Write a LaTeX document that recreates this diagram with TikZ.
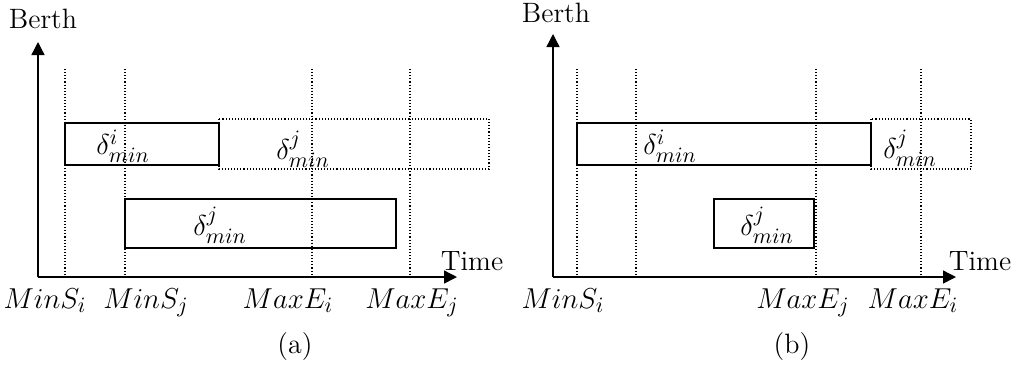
\documentclass[tikz,border=0pt]{standalone}
\usetikzlibrary{arrows.meta}
\begin{document}
\begin{tikzpicture}[x=0.5pt,y=-0.5pt,
  lbl/.style={inner sep=0pt,font=\fontsize{15}{18}\selectfont},
  txt/.style={inner sep=0pt,font=\fontsize{14}{17}\selectfont},
  axis/.style={line width=0.7pt,-{Triangle[length=6.5pt,width=6.5pt]}},
  guide/.style={line width=0.55pt,densely dotted},
  solidbox/.style={draw,line width=1pt,inner sep=0pt},
  ghostbox/.style={draw,line width=0.55pt,densely dotted,inner sep=0pt}]
\useasboundingbox (0,0) rectangle (1011,366);
% ---------- panel (a) ----------
\coordinate (aO) at (38,277);
\coordinate (aY) at (38,42);
\coordinate (aX) at (457,277);
\node[txt] (aberth) at (43,19) {Berth};
\node[txt] (atime) at (472,261) {Time};
\foreach \n/\x in {g1/65,g2/125,g3/312,g4/410}{
  \coordinate (a\n t) at (\x,69);
  \coordinate (a\n b) at (\x,277);
  \draw[guide] (a\n t) -- (a\n b);
}
\draw[ghostbox] (219,119) rectangle (489,169);
\draw[solidbox] (65,123) rectangle (219,165);
\draw[solidbox] (125,199) rectangle (396,248);
\node[lbl] (adi) at (123,146) {$\delta^{i}_{min}$};
\node[lbl] (adj1) at (303,149) {$\delta^{j}_{min}$};
\node[lbl] (adj2) at (220,225) {$\delta^{j}_{min}$};
\draw[axis] (aO) -- (aY);
\draw[axis] (aO) -- (aX);
\node[lbl,anchor=base] (aminsi) at (45,308) {$MinS_i$};
\node[lbl,anchor=base] (aminsj) at (146,308) {$MinS_j$};
\node[lbl,anchor=base] (amaxei) at (288,308) {$MaxE_i$};
\node[lbl,anchor=base] (amaxej) at (412,308) {$MaxE_j$};
\node[txt] (acap) at (295,347) {(a)};
% ---------- panel (b) ----------
\coordinate (bO) at (553,277);
\coordinate (bY) at (553,34);
\coordinate (bX) at (956,277);
\node[txt] (bberth) at (556,13) {Berth};
\node[txt] (btime) at (980,261) {Time};
\foreach \n/\x in {g1/577,g2/636,g3/816,g4/921}{
  \coordinate (b\n t) at (\x,69);
  \coordinate (b\n b) at (\x,277);
  \draw[guide] (b\n t) -- (b\n b);
}
\draw[ghostbox] (871,119) rectangle (971,169);
\draw[solidbox] (577,123) rectangle (871,165);
\draw[solidbox] (714,199) rectangle (814,248);
\node[lbl] (bdi) at (670,146) {$\delta^{i}_{min}$};
\node[lbl] (bdj1) at (910,148) {$\delta^{j}_{min}$};
\node[lbl] (bdj2) at (767,225) {$\delta^{j}_{min}$};
\draw[axis] (bO) -- (bY);
\draw[axis] (bO) -- (bX);
\node[lbl,anchor=base] (bminsi) at (563,308) {$MinS_i$};
\node[lbl,anchor=base] (bmaxej) at (803,308) {$MaxE_j$};
\node[lbl,anchor=base] (bmaxei) at (913,308) {$MaxE_i$};
\node[txt] (bcap) at (792,347) {(b)};
\end{tikzpicture}
\end{document}
